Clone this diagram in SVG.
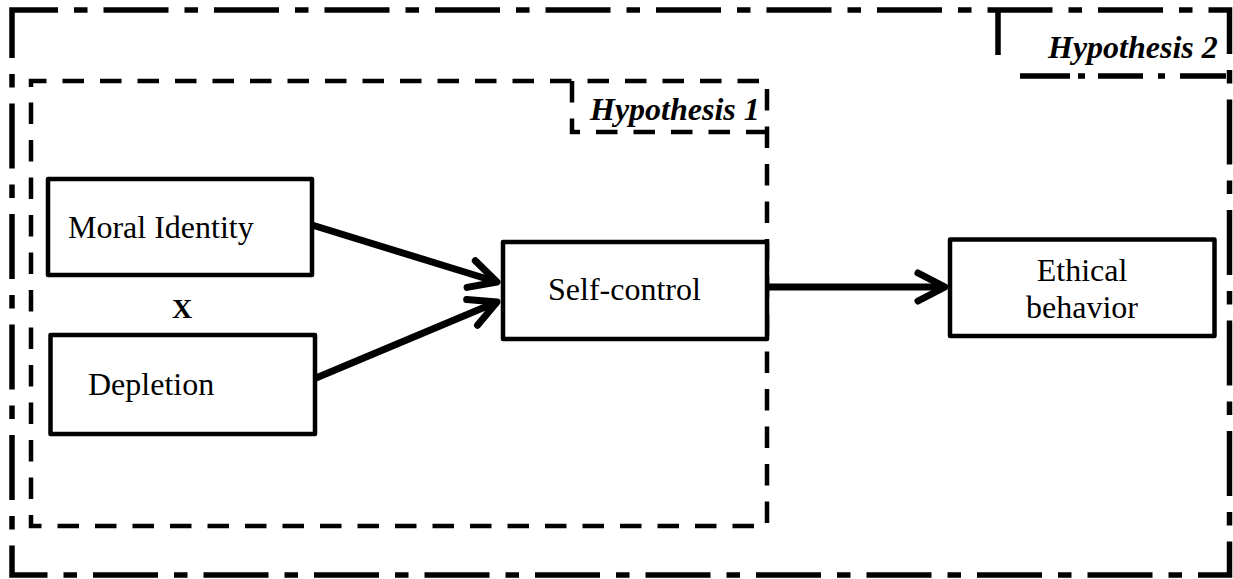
<svg xmlns="http://www.w3.org/2000/svg" width="1233" height="579" viewBox="0 0 1233 579">
  <style>
    .box { fill: #ffffff; stroke: #000000; stroke-width: 4.5; stroke-linejoin: round; }
    .outer { fill: none; stroke: #000000; stroke-width: 5.5; stroke-dasharray: 65 16 13.5 16; }
    .inner { fill: none; stroke: #000000; stroke-width: 4.5; stroke-dasharray: 21.5 16; }
    .lbl2 { fill: none; stroke: #000000; stroke-width: 5.5; }
    .txt { font-family: "Liberation Serif", "Times New Roman", serif; font-size: 32px; fill: #000000; }
    .hyp { font-family: "Liberation Serif", "Times New Roman", serif; font-size: 32px; font-weight: bold; font-style: italic; fill: #000000; }
    .x { font-family: "Liberation Serif", "Times New Roman", serif; font-size: 28px; font-weight: bold; fill: #000000; }
    .conn { fill: none; stroke: #000000; stroke-width: 7; }
  </style>
  <defs>
    <marker id="arrow" markerUnits="userSpaceOnUse" orient="auto" refX="0" refY="0" markerWidth="40" markerHeight="40" viewBox="-35 -20 40 40" overflow="visible">
      <path d="M-27,-14 L0,0 L-27,14" fill="none" stroke="#000000" stroke-width="7" stroke-linecap="round" stroke-linejoin="round"/>
    </marker>
  </defs>

  <g id="hypothesis2">
    <path class="outer" d="M12,29 V10 H1229.5 V575 H12 V29"/>
    <path class="lbl2" d="M998,10 V55 M1020,76 H1070 M1078,76 H1085 M1098,76 H1143 M1158,76 H1165 M1180,76 H1226"/>
    <text class="hyp" x="1048" y="58">Hypothesis 2</text>
  </g>

  <g id="hypothesis1">
    <path class="inner" d="M31,87 V81 H767 V526 H31 V87"/>
    <path class="inner" d="M572,81 V132 H767"/>
    <text class="hyp" x="590" y="120">Hypothesis 1</text>
  </g>

  <g id="connectors">
    <path class="conn" d="M312,225 L497,282" marker-end="url(#arrow)"/>
    <path class="conn" d="M316,378 L497,302" marker-end="url(#arrow)"/>
    <path class="conn" d="M767,287 L945,287" marker-end="url(#arrow)"/>
  </g>

  <g id="moral-identity">
    <rect class="box" x="48" y="179" width="264" height="96"/>
    <text class="txt" x="68" y="238">Moral Identity</text>
  </g>

  <g id="x-label">
    <text class="x" x="182" y="318" text-anchor="middle">X</text>
  </g>

  <g id="depletion">
    <rect class="box" x="50.5" y="335" width="264.5" height="99"/>
    <text class="txt" x="88" y="395">Depletion</text>
  </g>

  <g id="self-control">
    <rect class="box" x="503" y="242" width="264" height="97"/>
    <text class="txt" x="548" y="300">Self-control</text>
  </g>

  <g id="ethical-behavior">
    <rect class="box" x="950" y="239.5" width="264.5" height="96.5"/>
    <text class="txt" x="1082" y="281" text-anchor="middle">Ethical</text>
    <text class="txt" x="1082" y="318" text-anchor="middle">behavior</text>
  </g>
</svg>
